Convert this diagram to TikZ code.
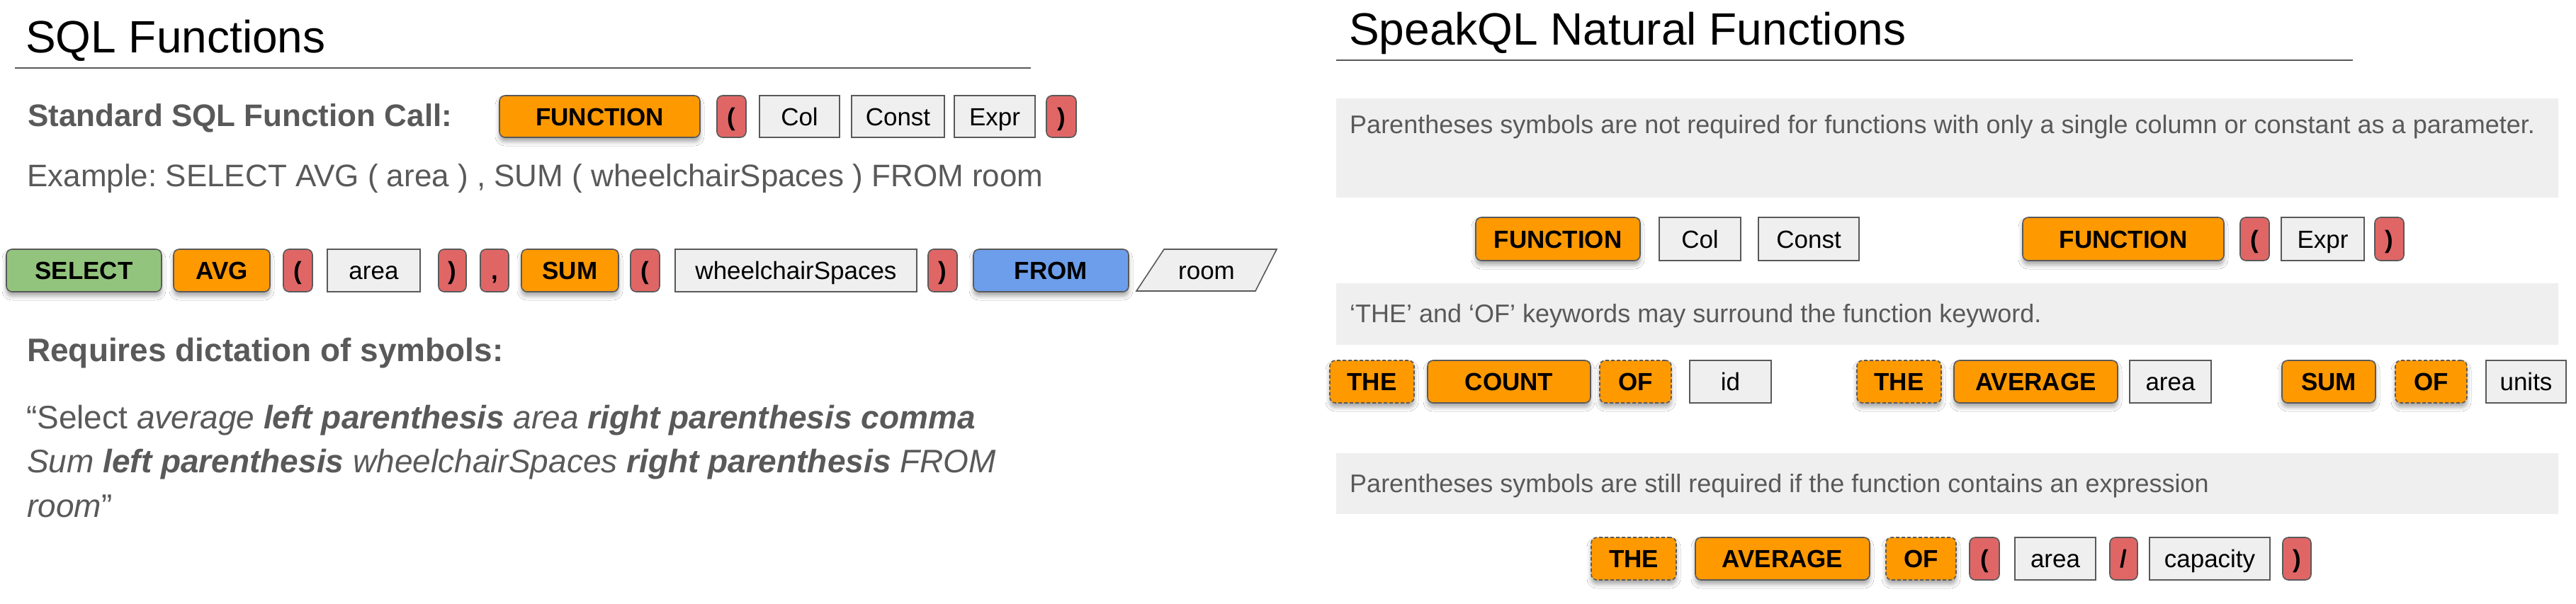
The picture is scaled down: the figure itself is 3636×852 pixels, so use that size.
\documentclass[tikz,border=0pt]{standalone}
\usepackage{fontspec}
\setmainfont{Liberation Sans}
\usetikzlibrary{shadows.blur}
\frenchspacing
\definecolor{org}{HTML}{FF9900}
\definecolor{redc}{HTML}{E06666}
\definecolor{grnc}{HTML}{93C47D}
\definecolor{bluc}{HTML}{6D9EEB}
\definecolor{grayc}{HTML}{EFEFEF}
\definecolor{bord}{HTML}{595959}
\definecolor{txtg}{HTML}{595959}
\tikzset{
  base/.style={draw=bord, line width=1.6pt, inner sep=0pt, text height=25pt, text depth=0pt,
    font=\fontsize{35}{40}\selectfont, text=black},
  shad/.style={blur shadow={shadow xshift=0pt, shadow yshift=-6pt, shadow blur radius=6pt, shadow opacity=35}},
  kw/.style={base, rounded corners=8pt, shad, font=\bfseries\fontsize{35}{40}\selectfont},
  fn/.style={kw, fill=org},
  sel/.style={kw, fill=grnc},
  frm/.style={kw, fill=bluc},
  opt/.style={kw, fill=org, dashed, dash pattern=on 5pt off 3pt},
  sym/.style={base, rounded corners=8pt, fill=redc, font=\bfseries\fontsize{35}{40}\selectfont},
  val/.style={base, fill=grayc},
  panel/.style={fill=grayc, draw=none, inner sep=0pt},
  ttl/.style={anchor=base west, font=\fontsize{64}{70}\selectfont, text=black, inner sep=0pt},
  hd/.style={anchor=base west, font=\bfseries\fontsize{44}{50}\selectfont, text=txtg, inner sep=0pt},
  body/.style={anchor=base west, font=\fontsize{44}{50}\selectfont, text=txtg, inner sep=0pt},
  ptxt/.style={anchor=base west, font=\fontsize{36}{42}\selectfont, text=txtg, inner sep=0pt},
  rule/.style={draw=bord, line width=2.5pt},
}
\newcommand{\bx}[7]{\node[#1, minimum width={(#4-#3)*1pt}, minimum height={(#6-#5)*1pt}] (#2) at ({(#3+#4)/2},{(#5+#6)/2}) {#7};}
\begin{document}
\begin{tikzpicture}[x=1pt, y=-1pt]
\useasboundingbox[fill=white] (0,0) rectangle (3636,852);

% ---------- left half ----------
\node[ttl] (t1) at (36,74) {SQL Functions};
\coordinate (l1a) at (21,96); \coordinate (l1b) at (1455,96);
\draw[rule] (l1a) -- (l1b);

\node[hd] (std) at (39,178) {Standard SQL Function Call:};
\bx{fn}{f1}{705}{988}{135}{194}{FUNCTION}
\bx{sym}{p1}{1012}{1053}{135}{194}{(}
\bx{val}{c1}{1072}{1185}{135}{194}{Col}
\bx{val}{k1}{1202}{1333}{135}{194}{Const}
\bx{val}{e1}{1347}{1461}{135}{194}{Expr}
\bx{sym}{q1}{1477}{1519}{135}{194}{)}

\node[body] (ex) at (38,263) {Example: SELECT AVG ( area ) , SUM ( wheelchairSpaces ) FROM room};

\bx{sel}{s2}{9}{228}{352}{412}{SELECT}
\bx{fn}{a2}{245}{381}{352}{412}{AVG}
\bx{sym}{p2}{400}{441}{352}{412}{(}
\bx{val}{ar2}{462}{593}{352}{412}{area}
\bx{sym}{q2}{619}{658}{352}{412}{)}
\bx{sym}{cm2}{678}{718}{352}{412}{,}
\bx{fn}{sm2}{736}{873}{352}{412}{SUM}
\bx{sym}{p3}{890}{931}{352}{412}{(}
\bx{val}{wh2}{953}{1294}{352}{412}{wheelchairSpaces}
\bx{sym}{q3}{1310}{1351}{352}{412}{)}
\bx{frm}{fr2}{1374}{1593}{352}{412}{FROM}
\draw[draw=bord, line width=1.6pt, fill=grayc] (1604,411) -- (1643,352) -- (1802,352) -- (1772,411) -- cycle;
\node[font=\fontsize{35}{40}\selectfont, text height=25pt, text depth=0pt, inner sep=0pt] (room) at (1703,382) {room};

\node[hd, font=\bfseries\fontsize{46}{52}\selectfont] (req) at (38,510) {Requires dictation of symbols:};
\node[body, font=\fontsize{46}{52}\selectfont] (qa) at (37,605) {``Select \textit{average} \textbf{\textit{left parenthesis}} \textit{area} \textbf{\textit{right parenthesis comma}}};
\node[body, font=\fontsize{46}{52}\selectfont] (qb) at (38,667) {\textit{Sum} \textbf{\textit{left parenthesis}} \textit{wheelchairSpaces} \textbf{\textit{right parenthesis}} \textit{FROM}};
\node[body, font=\fontsize{46}{52}\selectfont] (qc) at (38,730) {\textit{room}''};

% ---------- right half ----------
\node[ttl] (t2) at (1904,63) {SpeakQL Natural Functions};
\coordinate (l2a) at (1886,85); \coordinate (l2b) at (3321,85);
\draw[rule] (l2a) -- (l2b);

\bx{panel}{pn1}{1886}{3611}{139}{279}{}
\node[ptxt] (tx1) at (1905,188) {Parentheses symbols are not required for functions with only a single column or constant as a parameter.};
\bx{fn}{r1a}{2083}{2315}{307}{368}{FUNCTION}
\bx{val}{r1b}{2342}{2457}{307}{368}{Col}
\bx{val}{r1c}{2482}{2624}{307}{368}{Const}
\bx{fn}{r1d}{2855}{3139}{307}{368}{FUNCTION}
\bx{sym}{r1e}{3162}{3203}{307}{368}{(}
\bx{val}{r1f}{3220}{3337}{307}{368}{Expr}
\bx{sym}{r1g}{3352}{3393}{307}{368}{)}

\bx{panel}{pn2}{1886}{3611}{400}{487}{}
\node[ptxt] (tx2) at (1905,455) {`THE' and `OF' keywords may surround the function keyword.};
\bx{opt}{r2a}{1877}{1996}{509}{569}{THE}
\bx{fn}{r2b}{2015}{2245}{509}{569}{COUNT}
\bx{opt}{r2c}{2258}{2359}{509}{569}{OF}
\bx{val}{r2d}{2385}{2500}{509}{569}{id}
\bx{opt}{r2e}{2621}{2740}{509}{569}{THE}
\bx{fn}{r2f}{2758}{2989}{509}{569}{AVERAGE}
\bx{val}{r2g}{3006}{3121}{509}{569}{area}
\bx{fn}{r2h}{3221}{3353}{509}{569}{SUM}
\bx{opt}{r2i}{3381}{3482}{509}{569}{OF}
\bx{val}{r2j}{3509}{3622}{509}{569}{units}

\bx{panel}{pn3}{1886}{3611}{640}{726}{}
\node[ptxt] (tx3) at (1905,695) {Parentheses symbols are still required if the function contains an expression};
\bx{opt}{r3a}{2246}{2366}{759}{819}{THE}
\bx{fn}{r3b}{2393}{2639}{759}{819}{AVERAGE}
\bx{opt}{r3c}{2662}{2761}{759}{819}{OF}
\bx{sym}{r3d}{2780}{2822}{759}{819}{(}
\bx{val}{r3e}{2844}{2958}{759}{819}{area}
\bx{sym}{r3f}{2978}{3017}{759}{819}{/}
\bx{val}{r3g}{3034}{3204}{759}{819}{capacity}
\bx{sym}{r3h}{3222}{3262}{759}{819}{)}
\end{tikzpicture}
\end{document}
